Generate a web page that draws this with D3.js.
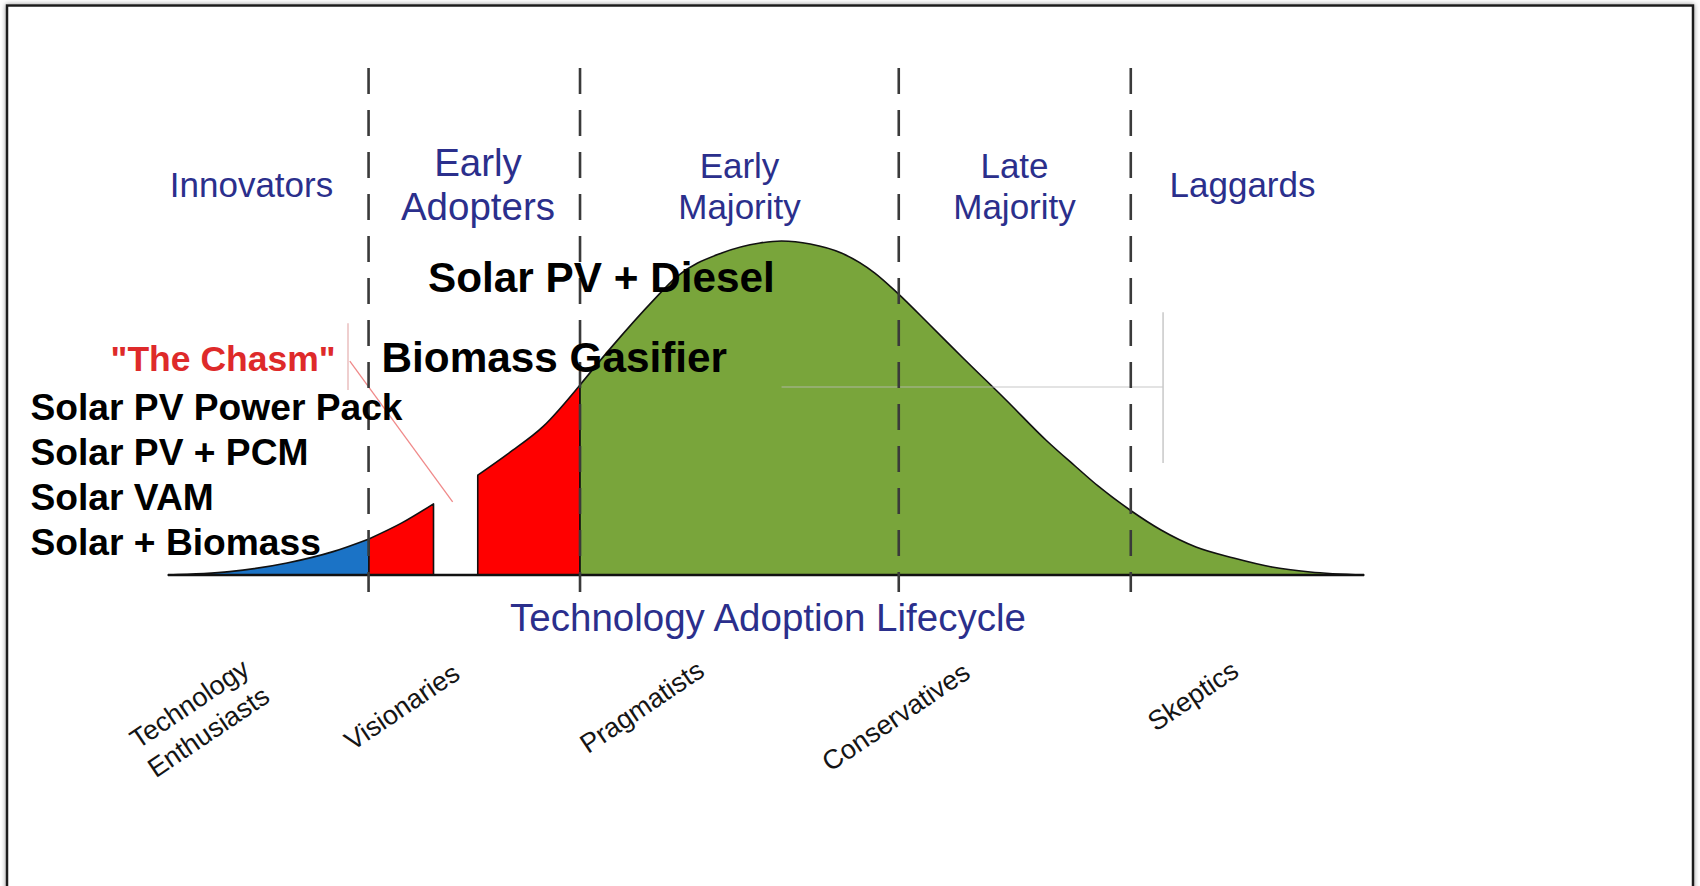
<!DOCTYPE html>
<html>
<head>
<meta charset="utf-8">
<script src="https://cdn.jsdelivr.net/npm/d3@7"></script>
<style>
  html, body { margin: 0; padding: 0; background: #ffffff; }
  svg { display: block; }
  text { font-family: "Liberation Sans", Arial, sans-serif; }
</style>
</head>
<body>
<svg id="chart" width="1700" height="886"></svg>
<script>
// ---------------- DATA ----------------
// adoption curve, x = position along the lifecycle (0..100), y = relative height (0..100)
const innovatorsCurve = [[0, 0], [5.15, 1.0], [9.95, 3.6], [13.8, 7.0], [16.8, 10.8]];
const earlyAdoptersCurveA = [[16.8, 10.8], [19.55, 15.6], [22.2, 21.3]];
const earlyAdoptersCurveB = [[25.9, 29.9], [28.5, 36.5], [31.35, 44.4], [34.45, 56.9]];
const majorityCurve = [[34.45, 56.9], [37.1, 68.3], [40.6, 82.3], [42.5, 89.2], [46.3, 96.4],
  [49.5, 99.4], [51.3, 100], [53.7, 99.1], [56.3, 96.4], [59.1, 90.4], [61.0, 84.4],
  [63.71, 74.85], [66.56, 64.67], [70.07, 52.4], [73.49, 40.12], [75.84, 32.63], [77.76, 26.65],
  [80.43, 19.46], [83.03, 13.47], [85.95, 8.38], [89.1, 5.1], [92.3, 2.4], [95.5, 0.9], [100, 0]];

const segmentBoundaries = [16.77, 34.45, 61.1, 80.5];
const segmentLabels = [["Innovators"], ["Early", "Adopters"], ["Early", "Majority"], ["Late", "Majority"], ["Laggards"]];
const psychographicLabels = [["Technology", "Enthusiasts"], ["Visionaries"], ["Pragmatists"], ["Conservatives"], ["Skeptics"]];
const chasmLabel = "\"The Chasm\"";
const axisTitle = "Technology Adoption Lifecycle";
const majorTechnologies = ["Solar PV + Diesel", "Biomass Gasifier"];
const earlyTechnologies = ["Solar PV Power Pack", "Solar PV + PCM", "Solar VAM", "Solar + Biomass"];

// faint guide strokes left in the figure
const chasmGuideVertical = [[15.05, 75.4], [15.05, 55.4]];
const chasmGuideDiagonal = [[15.2, 64.0], [23.8, 21.9]];
const greyGuideHorizontal = [[51.3, 56.3], [83.2, 56.3]];
const greyGuideVertical = [[83.2, 78.7], [83.2, 33.5]];

// ---------------- LAYOUT ----------------
const svg = d3.select("#chart");
const x = d3.scaleLinear().domain([0, 100]).range([168, 1364]);
const y = d3.scaleLinear().domain([0, 100]).range([575, 241]);

const navy = "#2b2f8c";

// frame with soft shadow
const defs = svg.append("defs");
const f = defs.append("filter").attr("id", "shadow").attr("x", "-5%").attr("y", "-5%").attr("width", "110%").attr("height", "110%");
f.append("feDropShadow").attr("dx", 0).attr("dy", 0).attr("stdDeviation", 2.5).attr("flood-color", "#777").attr("flood-opacity", 0.8);

svg.append("rect").attr("x", 7).attr("y", 5.5).attr("width", 1686).attr("height", 920)
  .attr("fill", "#fff").attr("stroke", "#1c1c1c").attr("stroke-width", 2.5).attr("filter", "url(#shadow)");

// areas
const area = d3.area().curve(d3.curveMonotoneX)
  .x(d => x(d[0])).y0(y(0)).y1(d => y(d[1]));

const segs = [
  { data: innovatorsCurve, fill: "#1b73c6" },
  { data: earlyAdoptersCurveA, fill: "#ff0000" },
  { data: earlyAdoptersCurveB, fill: "#ff0000" },
  { data: majorityCurve, fill: "#79a53b" }
];
svg.selectAll("path.seg").data(segs).join("path").attr("class", "seg")
  .attr("d", d => area(d.data))
  .attr("fill", d => d.fill)
  .attr("stroke", "#111").attr("stroke-width", 1.6).attr("stroke-linejoin", "round");

// baseline
svg.append("line").attr("x1", x(0)).attr("x2", x(100)).attr("y1", y(0)).attr("y2", y(0))
  .attr("stroke", "#111").attr("stroke-width", 2.5);

// faint guides
const guideLine = d3.line().x(d => x(d[0])).y(d => y(d[1]));
svg.append("path").attr("d", guideLine(greyGuideHorizontal)).attr("stroke", "#bbbbbb").attr("stroke-opacity", 0.55).attr("stroke-width", 1.6).attr("fill", "none");
svg.append("path").attr("d", guideLine(greyGuideVertical)).attr("stroke", "#c8c8c8").attr("stroke-width", 1.5).attr("fill", "none");
svg.append("path").attr("d", guideLine(chasmGuideVertical)).attr("stroke", "#e7b5b5").attr("stroke-width", 1.3).attr("fill", "none");
svg.append("path").attr("d", guideLine(chasmGuideDiagonal)).attr("stroke", "#f08a8a").attr("stroke-width", 1.3).attr("fill", "none");

// dashed segment dividers
svg.selectAll("line.div").data(segmentBoundaries).join("line").attr("class", "div")
  .attr("x1", d => x(d)).attr("x2", d => x(d))
  .attr("y1", 68).attr("y2", 592)
  .attr("stroke", "#3a3a3a").attr("stroke-width", 2.6).attr("stroke-dasharray", "26,16");

// segment labels
const segLabelPos = [[251.5, 197], [478, 176], [739.5, 178], [1014.5, 178], [1242.5, 197]];
const segLabelSize = [35, 38.5, 35, 35, 35];
const segLabelGap = [0, 44, 41, 41, 0];
segmentLabels.forEach((lines, i) => {
  const t = svg.append("text").attr("x", segLabelPos[i][0]).attr("y", segLabelPos[i][1])
    .attr("text-anchor", "middle").attr("fill", navy).attr("font-size", segLabelSize[i]);
  lines.forEach((l, j) => t.append("tspan").attr("x", segLabelPos[i][0]).attr("dy", j === 0 ? 0 : segLabelGap[i]).text(l));
});

// axis title
svg.append("text").attr("x", 768).attr("y", 631).attr("text-anchor", "middle")
  .attr("fill", navy).attr("font-size", 38.5).text(axisTitle);

// psychographic labels (rotated)
const psyPos = [[199, 718], [402, 707], [642, 707], [896, 717], [1193, 696]];
psychographicLabels.forEach((lines, i) => {
  const g = svg.append("g").attr("transform", `translate(${psyPos[i][0]},${psyPos[i][1]}) rotate(-34)`);
  const n = lines.length;
  lines.forEach((l, j) => {
    g.append("text").attr("x", 0).attr("y", (j - (n - 1) / 2) * 34)
      .attr("text-anchor", "middle").attr("dominant-baseline", "central")
      .attr("font-size", 27).attr("fill", "#151515").text(l);
  });
});

// chasm label
svg.append("text").attr("x", 110.6).attr("y", 371).attr("fill", "#de2a2a")
  .attr("font-size", 35.5).attr("font-weight", "bold").text(chasmLabel);

// technology labels
const majorPos = [[428, 292], [381.5, 372]];
majorTechnologies.forEach((t, i) => {
  svg.append("text").attr("x", majorPos[i][0]).attr("y", majorPos[i][1])
    .attr("font-size", 42.3).attr("font-weight", "bold").attr("fill", "#000").text(t);
});
earlyTechnologies.forEach((t, i) => {
  svg.append("text").attr("x", 30.5).attr("y", 420 + i * 45)
    .attr("font-size", 37.2).attr("font-weight", "bold").attr("fill", "#000").text(t);
});
</script>
</body>
</html>
